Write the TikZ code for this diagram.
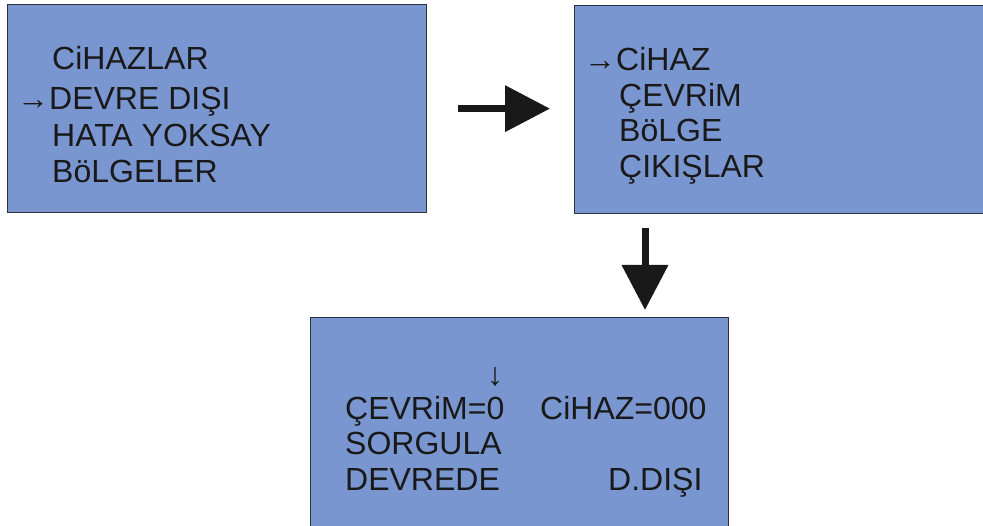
\documentclass[tikz,border=0pt]{standalone}
\usepackage{fontspec}
\setmainfont{Liberation Sans}
\usetikzlibrary{arrows.meta,positioning}

\definecolor{panelblue}{RGB}{122,150,208}
\definecolor{paneledge}{RGB}{45,50,65}
\definecolor{inkgrey}{RGB}{25,25,25}

\tikzset{
  panel/.style={draw=paneledge, line width=1.3pt, fill=panelblue,
    rectangle, inner sep=0pt, anchor=north west},
  line/.style={anchor=base west, inner sep=0pt, text=inkgrey,
    font=\fontsize{32}{32}\selectfont},
  bigarrow/.style={line width=7pt, inkgrey,
    -{Triangle[length=45pt,width=45pt]}}
}

\begin{document}
\begin{tikzpicture}[x=1pt,y=1pt]
                \useasboundingbox (0,0) rectangle (983,-526);
                % the three screens
                \node [panel, minimum width=419pt, minimum height=208pt] (main) at (7,-4) {};
                \node [panel, minimum width=410pt, minimum height=208pt] (loop) at (574,-5) {};
                \node [panel, minimum width=418pt, minimum height=210pt] (query) at (310,-317) {};
                % first screen
                \node [line] (m1) at (52,-70) {CiHAZLAR};
                \node [line] (m2) at (17,-110) {→DEVRE DIŞI};
                \node [line] (m3) at (52,-147) {HATA YOKSAY};
                \node [line] (m4) at (52,-183) {BöLGELER};
                % second screen
                \node [line] (l1) at (584,-71) {→CiHAZ};
                \node [line] (l2) at (619,-107) {ÇEVRiM};
                \node [line] (l3) at (619,-142) {BöLGE};
                \node [line] (l4) at (619,-178) {ÇIKIŞLAR};
                % third screen
                \node [line] (q0) at (487,-386) {↓};
                \node [line] (q1) at (345,-420) {ÇEVRiM=0};
                \node [line] (q2) at (540,-420) {CiHAZ=000};
                \node [line] (q3) at (345,-455) {SORGULA};
                \node [line] (q4) at (345,-490) {DEVREDE};
                \node [line] (q5) at (608,-490) {D.DIŞI};
                % arrows between screens
                \coordinate (down) at ([xshift=71pt]loop.south west);
                \draw [bigarrow, shorten <=31pt, shorten >=24pt] (main.east) -- (main.east -| loop.west);
                \draw [bigarrow, shorten <=14pt, shorten >=7pt] (down) -- (down |- query.north);
            \end{tikzpicture}
\end{document}
